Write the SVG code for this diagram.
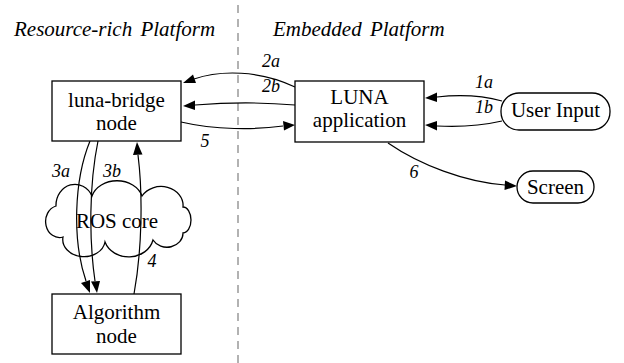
<svg xmlns="http://www.w3.org/2000/svg" width="624" height="363" viewBox="0 0 624 363">
<rect width="624" height="363" fill="#fff"/>
<line x1="238" y1="5" x2="238" y2="363" stroke="#999" stroke-width="1.5" stroke-dasharray="8,6"/>
<text x="14" y="36" font-family="'Liberation Serif', 'Times New Roman', serif" font-size="21" font-style="italic" word-spacing="3">Resource-rich Platform</text>
<text x="273" y="36" font-family="'Liberation Serif', 'Times New Roman', serif" font-size="21" font-style="italic" word-spacing="3">Embedded Platform</text>

<g id="ros-core">
<path fill="#fff" stroke="#000" stroke-width="1.3" d="M56 206 A19 21 0 0 1 92 196 A26 21 0 0 1 142 196 A22 19 0 0 1 183 207 A8 13 0 0 1 183 233 A16 14 0 0 1 153 240 A25 22 0 0 1 105 242 A21 17 0 0 1 63 237 A13 15 0 0 1 56 206 Z"/>
<text x="117" y="228" font-family="'Liberation Serif', 'Times New Roman', serif" font-size="21" text-anchor="middle">ROS core</text>
</g>

<g id="connectors">
<g fill="none" stroke="#000" stroke-width="1.2">
<path d="M295 87 C260 70 220 70 194 79"/>
<path d="M295 105 C260 102 220 103 195 105"/>
<path d="M181 122 C215 130 255 130 283 126"/>
<path d="M502 101 C480 95 455 95 437 97"/>
<path d="M502 121 C480 126 455 127 437 126"/>
<path d="M388 143 C420 165 465 182 505 185"/>
<path d="M90 141 C74 180 72 240 86 281"/>
<path d="M98 141 C89 185 89 240 95 281"/>
<path d="M134 294 C142 250 143 195 138 155"/>
</g>
<g fill="#000">
<polygon points="183,83 193,74.5 196,83"/>
<polygon points="183,106 195,100.5 195,110"/>
<polygon points="295,125 283,121 284,130.5"/>
<polygon points="425,98 437,92.5 437,102"/>
<polygon points="425,125 437,121 437,130.5"/>
<polygon points="517,186 505,180.5 504.5,190"/>
<polygon points="90,293 81,283 90,280"/>
<polygon points="97,293 91,281.5 100,281"/>
<polygon points="137,142 133,155 142.5,154.5"/>
</g>
</g>
<g id="edge-labels">
<text x="271" y="67" font-family="'Liberation Serif', 'Times New Roman', serif" font-size="18" font-style="italic" text-anchor="middle">2a</text>
<text x="271" y="92" font-family="'Liberation Serif', 'Times New Roman', serif" font-size="18" font-style="italic" text-anchor="middle">2b</text>
<text x="205" y="147" font-family="'Liberation Serif', 'Times New Roman', serif" font-size="18" font-style="italic" text-anchor="middle">5</text>
<text x="484" y="88" font-family="'Liberation Serif', 'Times New Roman', serif" font-size="18" font-style="italic" text-anchor="middle">1a</text>
<text x="484" y="113" font-family="'Liberation Serif', 'Times New Roman', serif" font-size="18" font-style="italic" text-anchor="middle">1b</text>
<text x="414" y="178" font-family="'Liberation Serif', 'Times New Roman', serif" font-size="18" font-style="italic" text-anchor="middle">6</text>
<text x="61" y="177" font-family="'Liberation Serif', 'Times New Roman', serif" font-size="18" font-style="italic" text-anchor="middle">3a</text>
<text x="112" y="177" font-family="'Liberation Serif', 'Times New Roman', serif" font-size="18" font-style="italic" text-anchor="middle">3b</text>
<text x="152" y="267" font-family="'Liberation Serif', 'Times New Roman', serif" font-size="18" font-style="italic" text-anchor="middle">4</text>
</g>

<g id="luna-bridge">
<rect fill="#fff" stroke="#000" stroke-width="1.3" x="52" y="81" width="129" height="60"/>
<text x="116.5" y="107" font-family="'Liberation Serif', 'Times New Roman', serif" font-size="21" text-anchor="middle">luna-bridge</text>
<text x="116.5" y="130" font-family="'Liberation Serif', 'Times New Roman', serif" font-size="21" text-anchor="middle">node</text>
</g>
<g id="luna-app">
<rect fill="#fff" stroke="#000" stroke-width="1.3" x="295" y="81" width="129" height="61"/>
<text x="359.5" y="104" font-family="'Liberation Serif', 'Times New Roman', serif" font-size="21" text-anchor="middle">LUNA</text>
<text x="359.5" y="127" font-family="'Liberation Serif', 'Times New Roman', serif" font-size="21" text-anchor="middle">application</text>
</g>
<g id="user-input">
<rect fill="#fff" stroke="#000" stroke-width="1.3" x="501" y="93" width="109" height="37" rx="18" ry="18"/>
<text x="555.5" y="117" font-family="'Liberation Serif', 'Times New Roman', serif" font-size="21" text-anchor="middle">User Input</text>
</g>
<g id="screen">
<rect fill="#fff" stroke="#000" stroke-width="1.3" x="517" y="171" width="77" height="32" rx="16" ry="16"/>
<text x="555.5" y="194" font-family="'Liberation Serif', 'Times New Roman', serif" font-size="21" text-anchor="middle">Screen</text>
</g>
<g id="algorithm">
<rect fill="#fff" stroke="#000" stroke-width="1.3" x="52" y="294" width="129" height="60"/>
<text x="116.5" y="319" font-family="'Liberation Serif', 'Times New Roman', serif" font-size="21" text-anchor="middle">Algorithm</text>
<text x="116.5" y="343" font-family="'Liberation Serif', 'Times New Roman', serif" font-size="21" text-anchor="middle">node</text>
</g>
</svg>
